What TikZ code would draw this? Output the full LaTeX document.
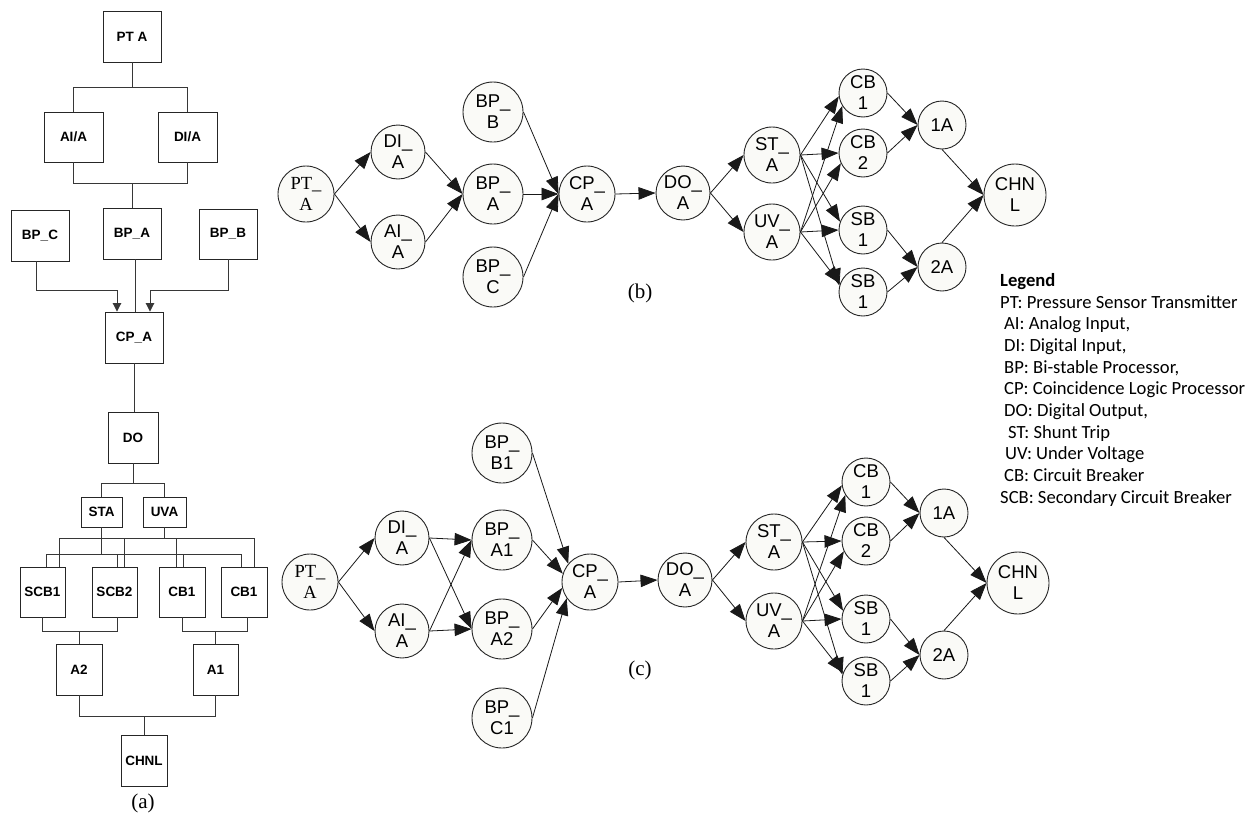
\documentclass[tikz,border=0pt]{standalone}
\usepackage{fontspec}
\usetikzlibrary{arrows.meta}
\newfontfamily\arialf{Liberation Sans}
\newfontfamily\timesf{Liberation Serif}
\newfontfamily\calibrif{Carlito}
\definecolor{nodefill}{RGB}{250,250,247}
\definecolor{treeline}{RGB}{55,55,55}

\begin{document}
\begin{tikzpicture}[x=1pt,y=-1pt,
  blk/.style 2 args={draw=black!85, line width=0.9pt, minimum width=#1, minimum height=#2,
    inner sep=0pt, font=\arialf\bfseries\fontsize{13.5}{15}\selectfont},
  tl/.style={draw=treeline, line width=0.9pt},
  tarr/.style={-{Triangle[length=8.5pt,width=8.5pt]}},
  cnode/.style={circle, draw=black!85, fill=nodefill, line width=0.9pt, minimum size=#1,
    inner sep=0pt, align=center, font=\arialf\fontsize{18.5}{21}\selectfont},
  tnode/.style={cnode=#1, font=\timesf\fontsize{18.5}{21}\selectfont},
  arr/.style={-{Triangle[length=17pt,width=12.5pt]}, line width=0.8pt, draw=black!90},
  sublabel/.style={font=\timesf\fontsize{21}{24}\selectfont, inner sep=0pt},
  leg/.style={anchor=base west, inner sep=0pt, font=\calibrif\fontsize{18.6}{21.7}\selectfont}
]
\fill[white] (0,0) rectangle (1252,825);
\useasboundingbox (0,0) rectangle (1252,825);

% ---------------- (a) block diagram ----------------
\node[blk={58}{51}] (pta)  at (132,36.5)  {PT A};
\node[blk={59}{50}] (aia)  at (73.5,137)  {AI/A};
\node[blk={59}{50}] (dia)  at (187.5,137) {DI/A};
\node[blk={58}{51}] (bpc)  at (40,235.5)  {BP\_C};
\node[blk={58}{51}] (bpa)  at (132,233.5) {BP\_A};
\node[blk={58}{50}] (bpb)  at (228,234)   {BP\_B};
\node[blk={58}{51}] (cpa)  at (134,337.5) {CP\_A};
\node[blk={50}{51}] (doa)  at (133,437.5) {DO};
\node[blk={41}{30}] (sta)  at (101.5,512) {STA};
\node[blk={43}{30}] (uva)  at (164.5,512) {UVA};
\node[blk={45}{50}] (scba) at (42.5,592)  {SCB1};
\node[blk={45}{50}] (scbb) at (114.5,592) {SCB2};
\node[blk={46}{50}] (cba)  at (182,592)   {CB1};
\node[blk={46}{50}] (cbb)  at (244,592)   {CB1};
\node[blk={46}{51}] (atwo) at (79,669.5)  {A2};
\node[blk={45}{51}] (aone) at (215.5,669.5) {A1};
\node[blk={46}{51}] (chnl) at (144,760.5) {CHNL};
\node[sublabel] (capa) at (143,803) {(a)};

\coordinate (yA) at (0,87);
\coordinate (yB) at (0,183);
\coordinate (yC) at (0,290);
\coordinate (yD) at (0,483);
\coordinate (yE) at (0,538);
\coordinate (yF) at (0,554);
\coordinate (yG) at (0,631);
\coordinate (yH) at (0,716);

\draw[tl] (pta.south) -- (pta.south |- yA);
\draw[tl] (aia.north) |- (dia.north |- yA) -- (dia.north);
\draw[tl] (aia.south) |- (dia.south |- yB) -- (dia.south);
\draw[tl] (bpa.north |- yB) -- (bpa.north);
\draw[tl,tarr] ([xshift=-4pt]bpc.south) |- ([xshift=-17pt]cpa.north |- yC) -- ([xshift=-17pt]cpa.north);
\draw[tl,tarr] (bpb.south) |- ([xshift=16pt]cpa.north |- yC) -- ([xshift=16pt]cpa.north);
\draw[tl] ([xshift=1pt]cpa.north) -- ([xshift=1pt]cpa.north |- bpa.south);
\draw[tl] (cpa.south) -- (cpa.south |- doa.north);
\draw[tl] (doa.south) -- (doa.south |- yD);
\draw[tl] (sta.north) |- (uva.north |- yD) -- (uva.north);
% shunt-trip bus (lower) and under-voltage bus (upper)
\draw[tl] (sta.south) -- (sta.south |- yF);
\draw[tl] ([xshift=3.5pt]scba.north) |- ([xshift=-3pt]cbb.north |- yF) -- ([xshift=-3pt]cbb.north);
\draw[tl] ([xshift=2.5pt]scbb.north) -- ([xshift=2.5pt]scbb.north |- yF);
\draw[tl] ([xshift=1pt]cba.north) -- ([xshift=1pt]cba.north |- yF);
\draw[tl] (uva.south) -- (uva.south |- yE);
\draw[tl] ([xshift=16.5pt]scba.north) |- ([xshift=10pt]cbb.north |- yE) -- ([xshift=10pt]cbb.north);
\draw[tl] ([xshift=9.5pt]scbb.north) -- ([xshift=9.5pt]scbb.north |- yE);
\draw[tl] ([xshift=-6pt]cba.north) -- ([xshift=-6pt]cba.north |- yE);
% breakers to trains to channel
\draw[tl] (scba.south) |- ([xshift=2.5pt]scbb.south |- yG) -- ([xshift=2.5pt]scbb.south);
\draw[tl] (atwo.north) -- (atwo.north |- yG);
\draw[tl] (cba.south) |- ([xshift=3pt]cbb.south |- yG) -- ([xshift=3pt]cbb.south);
\draw[tl] (aone.north) -- (aone.north |- yG);
\draw[tl] (atwo.south) |- (aone.south |- yH) -- (aone.south);
\draw[tl] (chnl.north) -- (chnl.north |- yH);

% ---------------- (b) graph ----------------
\node[tnode=56] (ptb)  at (306,194) {PT\_\\A};
\node[cnode=54] (dib)  at (398,152) {DI\_\\A};
\node[cnode=54] (aib)  at (398,242) {AI\_\\A};
\node[cnode=60] (bpbb) at (493,112) {BP\_\\B};
\node[cnode=60] (bpab) at (493,194) {BP\_\\A};
\node[cnode=60] (bpcb) at (493,277) {BP\_\\C};
\node[cnode=56] (cpb)  at (587,194) {CP\_\\A};
\node[cnode=54] (dob)  at (683,193) {DO\_\\A};
\node[cnode=56] (stb)  at (772,155) {ST\_\\A};
\node[cnode=56] (uvb)  at (772,232) {UV\_\\A};
\node[cnode=48] (cbab) at (863,93)  {CB\\1};
\node[cnode=48] (cbbb) at (863,153) {CB\\2};
\node[cnode=48] (sbab) at (863,230) {SB\\1};
\node[cnode=48] (sbbb) at (863,292) {SB\\1};
\node[cnode=48] (oab)  at (942,125) {1A};
\node[cnode=48] (tab)  at (942,267) {2A};
\node[cnode=62] (chb)  at (1015,195) {CHN\\L};
\node[sublabel] (capb) at (640,293) {(b)};

\draw[arr] (ptb.east) -- (dib.west);
\draw[arr] (ptb.east) -- (aib.west);
\draw[arr] (dib.east) -- (bpab.west);
\draw[arr] (aib.east) -- (bpab.west);
\draw[arr] (bpbb.east) -- (cpb.west);
\draw[arr] (bpab.east) -- (cpb.west);
\draw[arr] (bpcb.east) -- (cpb.west);
\draw[arr] (cpb.east) -- (dob.west);
\draw[arr] (dob.east) -- (stb.west);
\draw[arr] (dob.east) -- (uvb.west);
\draw[arr] (stb.east) -- (cbab.188);
\draw[arr] (stb.east) -- (cbbb.west);
\draw[arr] (stb.east) -- (sbab.160);
\draw[arr] (stb.east) -- (sbbb.165);
\draw[arr] (uvb.east) -- (cbab.212);
\draw[arr] (uvb.east) -- (cbbb.205);
\draw[arr] (uvb.east) -- (sbab.west);
\draw[arr] (uvb.east) -- (sbbb.160);
\draw[arr] (cbab.east) -- (oab.west);
\draw[arr] (cbbb.east) -- (oab.west);
\draw[arr] (sbab.east) -- (tab.west);
\draw[arr] (sbbb.east) -- (tab.west);
\draw[arr] (oab.south) -- (chb.west);
\draw[arr] (tab.north) -- (chb.west);

% ---------------- (c) graph ----------------
\node[tnode=56] (ptc)   at (310,582) {PT\_\\A};
\node[cnode=54] (dic)   at (402,538) {DI\_\\A};
\node[cnode=54] (aic)   at (402,631) {AI\_\\A};
\node[cnode=60] (bpbc)  at (502,453) {BP\_\\B1};
\node[cnode=60] (bpa1c) at (502,540) {BP\_\\A1};
\node[cnode=60] (bpa2c) at (502,629) {BP\_\\A2};
\node[cnode=60] (bpcc)  at (502,718) {BP\_\\C1};
\node[cnode=56] (cpc)   at (590,582) {CP\_\\A};
\node[cnode=54] (doc)   at (685,580) {DO\_\\A};
\node[cnode=56] (stc)   at (774,542) {ST\_\\A};
\node[cnode=56] (uvc)   at (774,621) {UV\_\\A};
\node[cnode=48] (cbac)  at (866,482) {CB\\1};
\node[cnode=48] (cbbc)  at (866,541) {CB\\2};
\node[cnode=48] (sbac)  at (866,619) {SB\\1};
\node[cnode=48] (sbbc)  at (866,681) {SB\\1};
\node[cnode=48] (oac)   at (944,513) {1A};
\node[cnode=48] (tac)   at (944,655) {2A};
\node[cnode=62] (chc)   at (1018,583) {CHN\\L};
\node[sublabel] (capc) at (640,670) {(c)};

\draw[arr] (ptc.east) -- (dic.west);
\draw[arr] (ptc.east) -- (aic.west);
\draw[arr] (dic.east) -- (bpa1c.west);
\draw[arr] (dic.east) -- (bpa2c.west);
\draw[arr] (aic.east) -- (bpa1c.west);
\draw[arr] (aic.east) -- (bpa2c.west);
\draw[arr] (bpbc.east) -- (cpc.140);
\draw[arr] (bpa1c.east) -- (cpc.163);
\draw[arr] (bpa2c.east) -- (cpc.192);
\draw[arr] (bpcc.east) -- (cpc.215);
\draw[arr] (cpc.east) -- (doc.west);
\draw[arr] (doc.east) -- (stc.west);
\draw[arr] (doc.east) -- (uvc.west);
\draw[arr] (stc.east) -- (cbac.188);
\draw[arr] (stc.east) -- (cbbc.west);
\draw[arr] (stc.east) -- (sbac.160);
\draw[arr] (stc.east) -- (sbbc.165);
\draw[arr] (uvc.east) -- (cbac.212);
\draw[arr] (uvc.east) -- (cbbc.205);
\draw[arr] (uvc.east) -- (sbac.west);
\draw[arr] (uvc.east) -- (sbbc.160);
\draw[arr] (cbac.east) -- (oac.west);
\draw[arr] (cbbc.east) -- (oac.west);
\draw[arr] (sbac.east) -- (tac.west);
\draw[arr] (sbbc.east) -- (tac.west);
\draw[arr] (oac.south) -- (chc.west);
\draw[arr] (tac.north) -- (chc.west);

% ---------------- legend ----------------
\node[leg, font=\calibrif\bfseries\fontsize{18.6}{21.7}\selectfont] (leg0) at (1000,286) {Legend};
\node[leg] (leg1)  at (1000,308) {PT: Pressure Sensor Transmitter};
\node[leg] (leg2)  at (1004,329.5) {AI: Analog Input,};
\node[leg] (leg3)  at (1004,351) {DI: Digital Input,};
\node[leg] (leg4)  at (1004,373) {BP: Bi-stable Processor,};
\node[leg] (leg5)  at (1004,394.5) {CP: Coincidence Logic Processor};
\node[leg] (leg6)  at (1004,416) {DO: Digital Output,};
\node[leg] (leg7)  at (1008,438) {ST: Shunt Trip};
\node[leg] (leg8)  at (1005,459.5) {UV: Under Voltage};
\node[leg] (leg9)  at (1004,481) {CB: Circuit Breaker};
\node[leg] (leg10) at (1000,503) {SCB: Secondary Circuit Breaker};
\end{tikzpicture}
\end{document}
